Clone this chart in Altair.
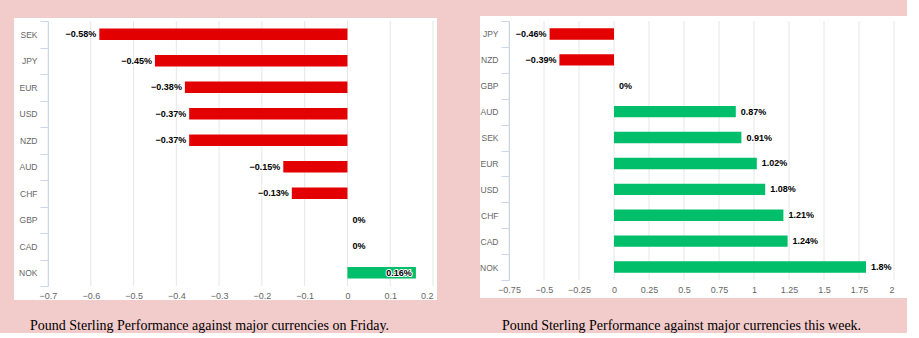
import altair as alt
import pandas as pd

# ---- data ----
fri_cur = ["SEK", "JPY", "EUR", "USD", "NZD", "AUD", "CHF", "GBP", "CAD", "NOK"]
fri_val = [-0.58, -0.45, -0.38, -0.37, -0.37, -0.15, -0.13, 0, 0, 0.16]
week_cur = ["JPY", "NZD", "GBP", "AUD", "SEK", "EUR", "USD", "CHF", "CAD", "NOK"]
week_val = [-0.46, -0.39, 0, 0.87, 0.91, 1.02, 1.08, 1.21, 1.24, 1.8]
fri_ticks = [-0.7, -0.6, -0.5, -0.4, -0.3, -0.2, -0.1, 0, 0.1, 0.2]
week_ticks = [-0.75, -0.5, -0.25, 0, 0.25, 0.5, 0.75, 1, 1.25, 1.5, 1.75, 2]
captions = [
    "Pound Sterling Performance against major currencies on Friday.",
    "Pound Sterling Performance against major currencies this week.",
]

RED = "#e20000"
GREEN = "#00be69"
PINK = "#f2cbcb"
SANS = "Liberation Sans"


def fmt(v):
    if v == 0:
        return "0%"
    return ("\u2212" if v < 0 else "") + f"{abs(v):g}%"


def panel(cats, vals, ticks, caption, W, H, rx1, rx2, ry1, ry2, cap_dx, cap_off):
    df = pd.DataFrame({"cur": cats, "val": vals})
    df["label"] = [fmt(v) for v in vals]
    xmin, xmax = ticks[0], ticks[-1]
    pos = []
    for v, lab in zip(df["val"], df["label"]):
        px = (v - xmin) / (xmax - xmin) * W
        if v < 0:
            pos.append("neg")
        elif px + 5 + len(lab) * 5.5 > W:
            pos.append("in")
        else:
            pos.append("pos")
    df["pos"] = pos

    xs = alt.Scale(domain=[xmin, xmax], nice=False, zero=False)
    ys = alt.Scale(domain=cats, paddingInner=0, paddingOuter=0)
    x_axis = alt.Axis(
        values=ticks, labelExpr="format(datum.value, '~g')", title=None, domain=False,
        ticks=False, grid=False,
        labelColor="#666666", labelFont=SANS, labelFontSize=9, labelPadding=5,
        labelAlign={"condition": {"test": f"datum.value >= {xmax}", "value": "right"},
                    "value": "center"},
        zindex=1,
    )
    y_axis = alt.Axis(
        title=None, domainColor="#ccd6eb", tickColor="#ccd6eb", tickSize=8,
        tickBand="extent", labelColor="#666666", labelFont=SANS, labelFontSize=8.5,
        labelPadding=3, grid=False, zindex=1,
    )

    bg = alt.Chart(pd.DataFrame({"a": [0]})).mark_rect(color="white").encode(
        x=alt.value(rx1), x2=alt.value(rx2), y=alt.value(ry1), y2=alt.value(ry2)
    )
    grid = alt.Chart(pd.DataFrame({"t": ticks})).mark_rule(color="#e6e6e6", strokeWidth=1).encode(
        x=alt.X("t:Q", scale=xs, axis=x_axis), y=alt.value(0), y2=alt.value(H)
    )
    base = alt.Chart(df)
    bars = base.transform_filter("datum.val != 0").mark_bar(
        height=alt.RelativeBandSize(0.44)
    ).encode(
        y=alt.Y("cur:N", scale=ys, axis=y_axis, sort=None),
        x=alt.X("val:Q", scale=xs, axis=x_axis),
        x2=alt.datum(0),
        color=alt.condition("datum.val < 0", alt.value(RED), alt.value(GREEN)),
    )
    layers = [bg, grid, bars]
    for p, align, dx in [("neg", "right", -3), ("pos", "left", 5), ("in", "right", -4)]:
        sub = base.transform_filter(f"datum.pos == '{p}'")
        enc = dict(
            y=alt.Y("cur:N", scale=ys, axis=y_axis, sort=None),
            x=alt.X("val:Q", scale=xs, axis=x_axis),
            text="label:N",
        )
        halo = sub.mark_text(align=align, baseline="middle", dx=dx, font=SANS, fontSize=9,
                             fontWeight="bold", stroke="white", strokeWidth=2,
                             strokeJoin="round", fill="white").encode(**enc)
        txt = sub.mark_text(align=align, baseline="middle", dx=dx, font=SANS, fontSize=9,
                            fontWeight="bold", color="black").encode(**enc)
        layers += [halo, txt]

    return alt.layer(*layers).properties(
        width=W, height=H,
        title=alt.TitleParams(caption, orient="bottom", font="Liberation Serif", fontSize=14,
                              fontWeight="normal", color="black", anchor="middle",
                              dx=cap_dx, offset=cap_off),
    )


left = panel(fri_cur, fri_val, fri_ticks, captions[0], 385, 265, -34, 389, -3, 279, -31, 19)
right = panel(week_cur, week_val, week_ticks, captions[1], 385, 259, -29, 398, -5, 277, -20, 21)

chart = alt.hconcat(left, right, spacing=42).properties(
    background=PINK,
    padding={"left": 14, "top": 16, "right": 0, "bottom": 0},
).configure_view(stroke=None)

chart.save("out.html", embed_options={"renderer": "svg", "actions": False})
